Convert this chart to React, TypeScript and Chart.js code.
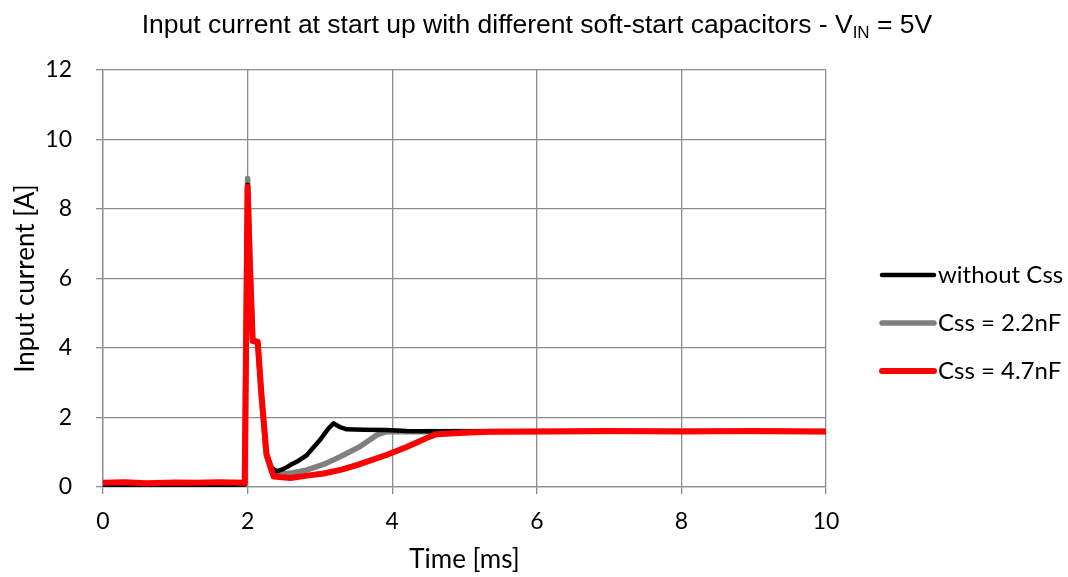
import React, { useEffect, useRef } from "react";
import { Chart, registerables } from "chart.js";

Chart.register(...registerables);

const seriesLabels = ["without Css", "Css = 2.2nF", "Css = 4.7nF"];
const seriesColors = ["#000000", "#808080", "#ff0000"];

const timeNoCss = [0, 0.4, 0.8, 1.2, 1.6, 1.96, 2.0, 2.03, 2.07, 2.14, 2.19, 2.26, 2.33, 2.4, 2.5, 2.59, 2.7, 2.82, 3.0, 3.12, 3.19, 3.28, 3.37, 3.6, 3.92, 4.2, 5, 6, 7, 8, 9, 10];
const currentNoCss = [0.06, 0.07, 0.06, 0.07, 0.06, 0.07, 8.7, 6.6, 4.2, 4.15, 2.7, 0.97, 0.56, 0.45, 0.52, 0.63, 0.75, 0.92, 1.35, 1.69, 1.83, 1.72, 1.66, 1.65, 1.64, 1.61, 1.6, 1.6, 1.61, 1.6, 1.6, 1.6];

const timeCss22 = [0, 0.4, 0.8, 1.2, 1.6, 1.96, 2.0, 2.03, 2.07, 2.14, 2.19, 2.26, 2.33, 2.4, 2.6, 2.82, 3.05, 3.28, 3.55, 3.79, 3.92, 4.3, 5, 6, 7, 8, 9, 10];
const currentCss22 = [0.04, 0.05, 0.04, 0.05, 0.04, 0.05, 8.88, 6.7, 4.25, 4.15, 2.65, 0.9, 0.45, 0.35, 0.4, 0.49, 0.65, 0.87, 1.16, 1.5, 1.59, 1.59, 1.6, 1.6, 1.6, 1.61, 1.6, 1.6];

const timeCss47 = [0, 0.3, 0.6, 1.0, 1.3, 1.6, 1.96, 2.0, 2.03, 2.07, 2.14, 2.19, 2.26, 2.36, 2.59, 2.8, 3.05, 3.3, 3.51, 3.92, 4.2, 4.52, 4.61, 5, 5.35, 6, 7, 8, 9, 10];
const currentCss47 = [0.12, 0.14, 0.11, 0.13, 0.12, 0.14, 0.12, 8.64, 6.5, 4.2, 4.18, 2.7, 0.97, 0.3, 0.26, 0.32, 0.39, 0.5, 0.63, 0.92, 1.15, 1.45, 1.52, 1.56, 1.59, 1.6, 1.61, 1.6, 1.61, 1.6];

const titleMain = "Input current at start up with different soft-start capacitors - V";
const titleSub = "IN";
const titleTail = " = 5V";
const xAxisTitle = "Time [ms]";
const yAxisTitle = "Input current [A]";

const GRID = "#8c8c8c";
const FONT = "Lato";

const toPoints = (xs: number[], ys: number[]) => xs.map((x, i) => ({ x, y: ys[i] }));

const titlePlugin = {
  id: "subTitle",
  afterDraw(chart: any) {
    const ctx = chart.ctx;
    ctx.save();
    const main = "26.5px 'Liberation Sans'";
    const sub = "17px 'Liberation Sans'";
    ctx.font = main;
    const w1 = ctx.measureText(titleMain).width;
    const w3 = ctx.measureText(titleTail).width;
    ctx.font = sub;
    const w2 = ctx.measureText(titleSub).width;
    const total = w1 + w2 + w3;
    const cx = 537;
    const baseY = 33;
    let x = cx - total / 2;
    ctx.fillStyle = "#000";
    ctx.textBaseline = "alphabetic";
    ctx.textAlign = "left";
    ctx.font = main;
    ctx.fillText(titleMain, x, baseY);
    x += w1;
    ctx.font = sub;
    ctx.fillText(titleSub, x, baseY + 5);
    x += w2;
    ctx.font = main;
    ctx.fillText(titleTail, x, baseY);
    ctx.restore();
  },
};

const legendPlugin = {
  id: "sideLegend",
  afterDraw(chart: any) {
    const ctx = chart.ctx;
    const { right, top } = chart.chartArea;
    ctx.save();
    chart.data.datasets.forEach((ds: any, i: number) => {
      const y = top + 205 + i * 48;
      ctx.strokeStyle = ds.borderColor;
      ctx.lineWidth = ds.borderWidth;
      ctx.lineCap = "round";
      ctx.beginPath();
      ctx.moveTo(right + 56, y);
      ctx.lineTo(right + 108, y);
      ctx.stroke();
      ctx.fillStyle = "#000";
      ctx.font = `24px ${FONT}`;
      ctx.textBaseline = "middle";
      ctx.textAlign = "left";
      ctx.fillText(ds.label, right + 112, y);
    });
    ctx.restore();
  },
};

export default function App() {
  const ref = useRef<HTMLCanvasElement>(null);
  useEffect(() => {
    document.body.style.margin = "0";
    const datasets = [
      { label: seriesLabels[0], data: toPoints(timeNoCss, currentNoCss), borderColor: seriesColors[0], borderWidth: 4.5, order: 1 },
      { label: seriesLabels[1], data: toPoints(timeCss22, currentCss22), borderColor: seriesColors[1], borderWidth: 5.5, order: 2 },
      { label: seriesLabels[2], data: toPoints(timeCss47, currentCss47), borderColor: seriesColors[2], borderWidth: 6, order: 0 },
    ].map((d) => ({ ...d, pointRadius: 0, tension: 0, fill: false, borderJoinStyle: "round" as const, borderCapStyle: "round" as const }));
    const chart = new Chart(ref.current!, {
      type: "line",
      data: { datasets },
      options: {
        animation: false,
        responsive: true,
        maintainAspectRatio: false,
        layout: { padding: { top: 70, right: 242, left: 0, bottom: 0 } },
        plugins: { legend: { display: false }, tooltip: { enabled: false }, title: { display: false } },
        scales: {
          x: {
            type: "linear",
            min: 0,
            max: 10,
            afterFit: (s: any) => { s.height = 90; },
            ticks: { stepSize: 2, color: "#000", font: { family: FONT, size: 23 }, padding: 14 },
            grid: { color: GRID, lineWidth: 1.3, tickLength: 7 },
            border: { color: GRID, width: 1.3 },
            title: { display: true, text: xAxisTitle, color: "#000", font: { family: FONT, size: 26 }, padding: { top: 4, bottom: 1.5 } },
          },
          y: {
            type: "linear",
            min: 0,
            max: 12,
            afterFit: (s: any) => { s.width = 103; },
            ticks: { stepSize: 2, color: "#000", font: { family: FONT, size: 23 }, padding: 24 },
            grid: { color: GRID, lineWidth: 1.3, tickLength: 7 },
            border: { color: GRID, width: 1.3 },
            title: { display: true, text: yAxisTitle, color: "#000", font: { family: FONT, size: 26 }, padding: { top: 10, bottom: 4 } },
          },
        },
      },
      plugins: [titlePlugin, legendPlugin],
    });
    return () => chart.destroy();
  }, []);
  return (
    <div style={{ width: 1068, height: 577, position: "relative" }}>
      <canvas ref={ref} />
    </div>
  );
}
